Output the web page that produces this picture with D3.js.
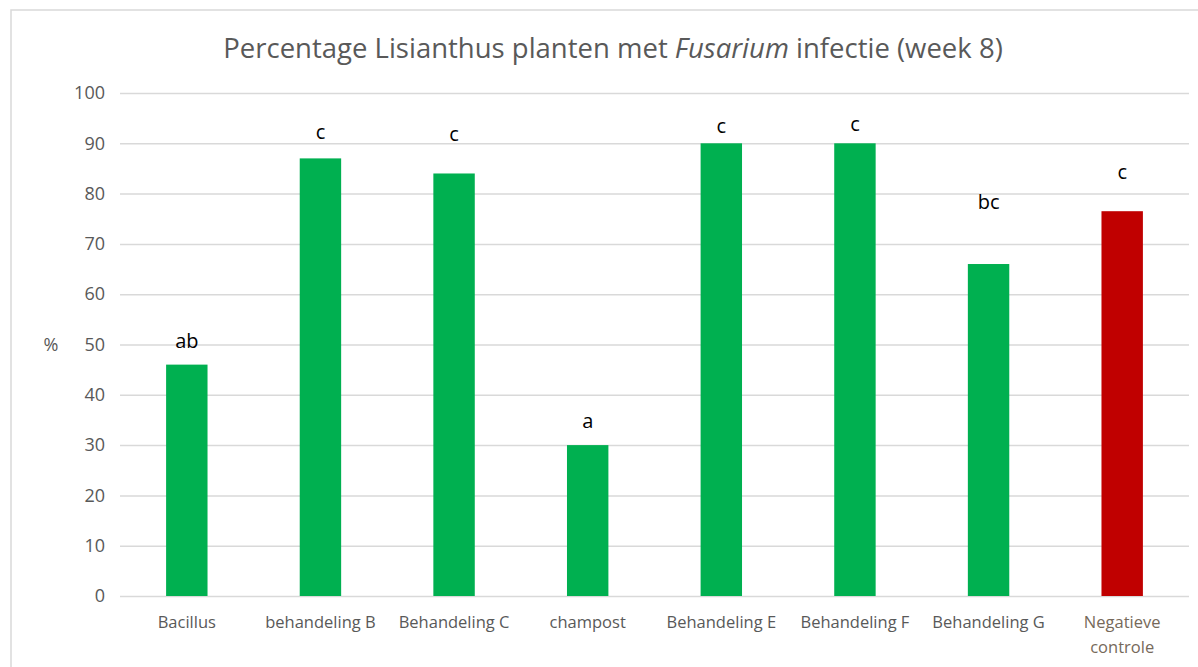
<!DOCTYPE html>
<html lang="nl">
<head>
    <style>
        body { margin: 0; background: #fff; }
        text { font-family: "Open Sans", sans-serif; }
    </style>
    <script src="https://d3js.org/d3.v7.min.js"></script>
</head>
<body>
    <svg width="1198" height="667"></svg>
    <script>
        var categories = ["Bacillus", "behandeling B", "Behandeling C", "champost",
            "Behandeling E", "Behandeling F", "Behandeling G", "Negatieve controle"];
        var values = [46, 87, 84, 30, 90, 90, 66, 76.5];
        var letters = ["ab", "c", "c", "a", "c", "c", "bc", "c"];
        // letter height in % units, as placed in the original
        var letterLevel = [50.7, 92.2, 91.8, 34.8, 93.4, 93.8, 78.3, 84.3];
        var yTicks = [0, 10, 20, 30, 40, 50, 60, 70, 80, 90, 100];

        var svg = d3.select("svg");
        var plotLeft = 120, plotRight = 1189, plotTop = 93, plotBottom = 596;

        // chart area border
        svg.append("rect")
            .attr("x", 11).attr("y", 10)
            .attr("width", 1200).attr("height", 700)
            .attr("fill", "none")
            .attr("stroke", "#d9d9d9")
            .attr("stroke-width", 1.5);

        var title = svg.append("text")
            .attr("x", 613).attr("y", 58)
            .attr("text-anchor", "middle")
            .attr("font-size", "27.5px")
            .attr("fill", "#595959");
        title.append("tspan").text("Percentage Lisianthus planten met ");
        title.append("tspan").attr("font-style", "italic").text("Fusarium");
        title.append("tspan").text(" infectie (week 8)");

        var x = d3.scaleBand()
            .domain(categories)
            .range([plotLeft, plotRight])
            .paddingInner(0.69)
            .paddingOuter(0.345);

        var y = d3.scaleLinear()
            .domain([0, 100])
            .range([plotBottom, plotTop]);

        // gridlines + y labels
        var yAxis = svg.append("g")
            .attr("transform", "translate(" + plotLeft + ",0)")
            .call(d3.axisLeft(y).tickValues(yTicks).tickSize(-(plotRight - plotLeft)).tickPadding(15));
        yAxis.select(".domain").remove();
        yAxis.selectAll(".tick line")
            .attr("stroke", "#d9d9d9")
            .attr("stroke-width", 1.5);
        yAxis.selectAll(".tick text")
            .attr("font-family", "Open Sans, sans-serif")
            .attr("font-size", "18px")
            .attr("fill", "#595959");

        svg.append("text")
            .attr("x", 51).attr("y", y(50) + 6)
            .attr("text-anchor", "middle")
            .attr("font-size", "18px")
            .attr("fill", "#595959")
            .text("%");

        svg.selectAll(".bar")
            .data(categories)
            .enter().append("rect")
            .attr("class", "bar")
            .attr("x", function(d) { return x(d); })
            .attr("y", function(d, i) { return y(values[i]); })
            .attr("width", x.bandwidth())
            .attr("height", function(d, i) { return plotBottom - y(values[i]); })
            .attr("fill", function(d, i) { return i == categories.length - 1 ? "#c00000" : "#00b050"; });

        svg.selectAll(".letter")
            .data(categories)
            .enter().append("text")
            .attr("class", "letter")
            .attr("x", function(d) { return x(d) + x.bandwidth() / 2; })
            .attr("y", function(d, i) { return y(letterLevel[i]) + 7; })
            .attr("text-anchor", "middle")
            .attr("font-size", "20px")
            .attr("fill", "#000")
            .text(function(d, i) { return letters[i]; });

        // x labels
        var xl = svg.selectAll(".xlab")
            .data(categories)
            .enter().append("text")
            .attr("class", "xlab")
            .attr("x", function(d) { return x(d) + x.bandwidth() / 2; })
            .attr("y", 628)
            .attr("text-anchor", "middle")
            .attr("font-size", "16.5px")
            .attr("fill", function(d, i) { return i == categories.length - 1 ? "#76695a" : "#595959"; });
        xl.each(function(d) {
            var t = d3.select(this);
            var parts = d == "Negatieve controle" ? ["Negatieve", "controle"] : [d];
            parts.forEach(function(p, k) {
                t.append("tspan")
                    .attr("x", t.attr("x"))
                    .attr("dy", k == 0 ? 0 : 25)
                    .text(p);
            });
        });
    </script>
</body>
</html>
